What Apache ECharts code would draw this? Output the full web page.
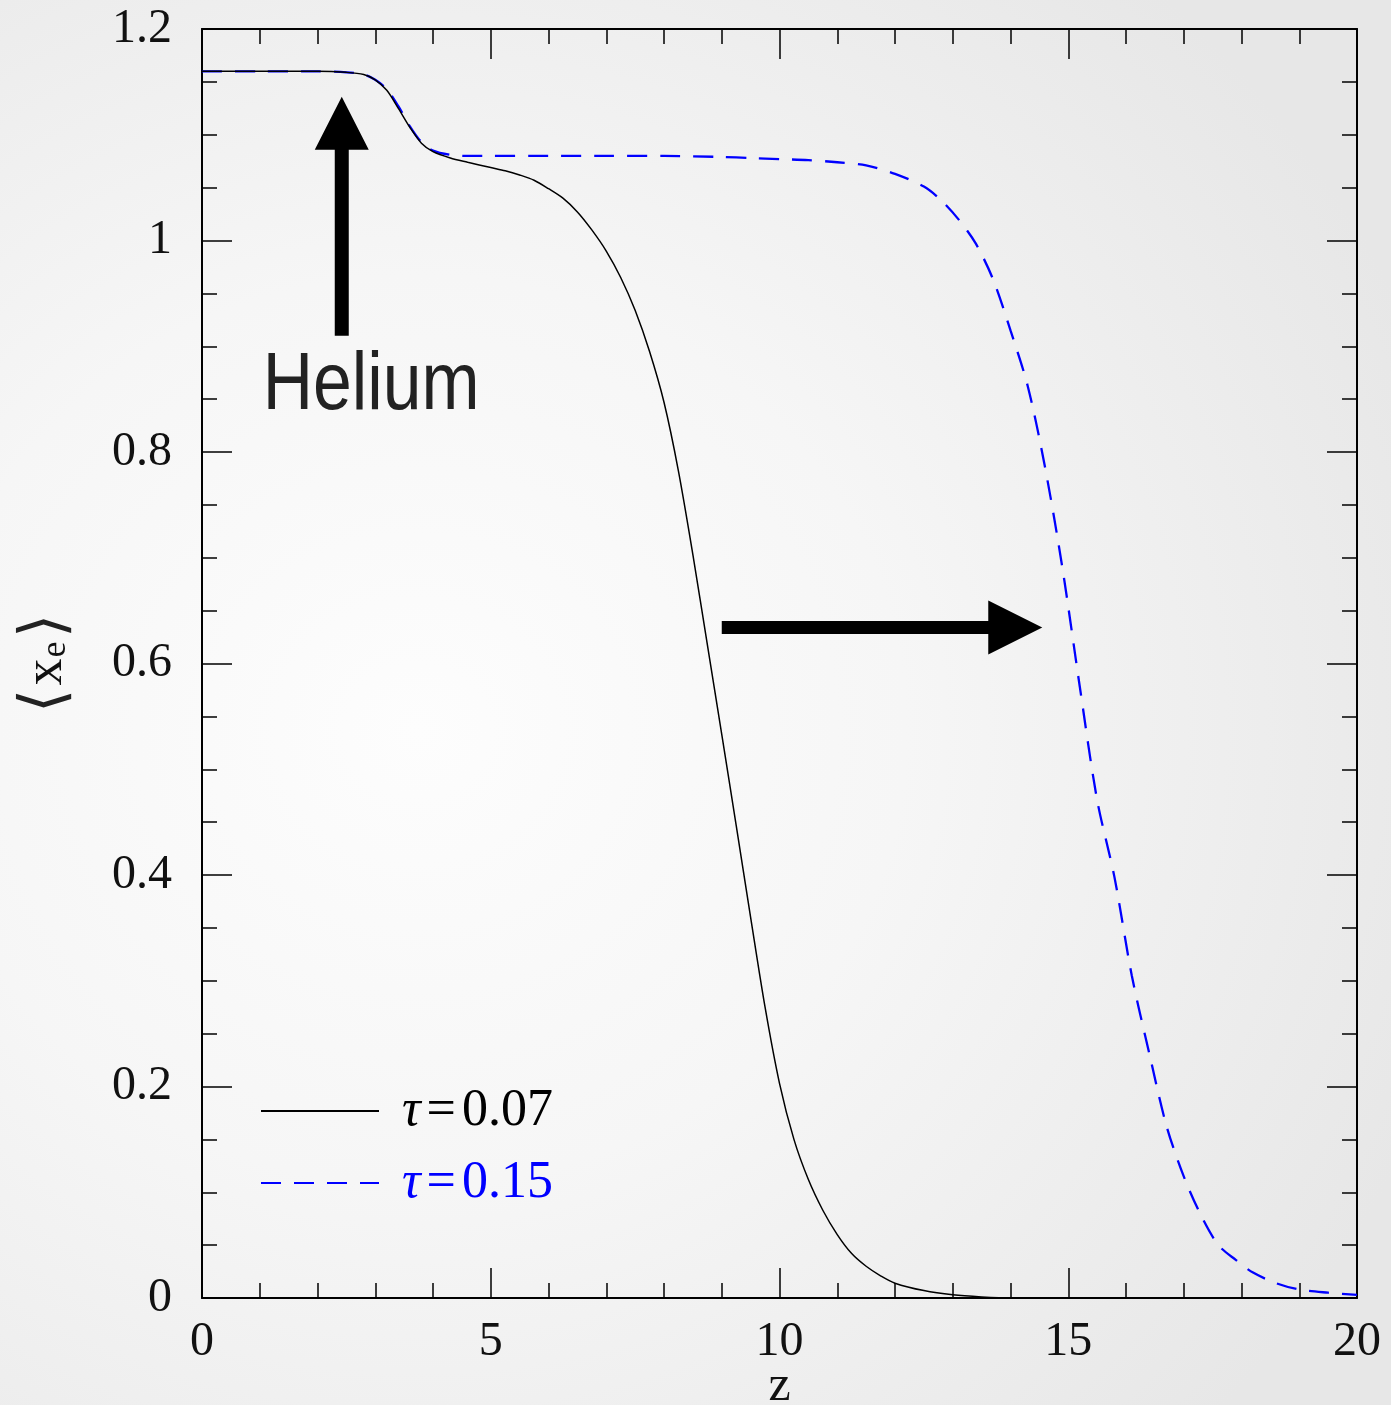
<!DOCTYPE html>
<html>
<head>
<meta charset="utf-8">
<script src="https://cdn.jsdelivr.net/npm/echarts@6/dist/echarts.min.js"></script>
<style>
  html, body { margin: 0; padding: 0; }
  body {
    background: radial-gradient(ellipse 78% 72% at 30% 52%, #fdfdfd 0%, #f6f6f6 45%, #e7e7e7 100%);
  }
  #chart { width: 1391px; height: 1405px; }
</style>
</head>
<body>
<div id="chart"></div>
<script>
// Mean ionized fraction <x_e> versus redshift z for two optical depths.
const seriesNames = ['τ=0.07', 'τ=0.15'];

// tau = 0.07 (solid black)
const zLow = [0, 1, 2, 2.5, 2.8, 3.0, 3.2, 3.4, 3.6, 3.8, 4.0, 4.3, 4.6, 5.0, 5.25, 5.5, 5.75,
  6.0, 6.25, 6.5, 6.75, 7.0, 7.25, 7.5, 7.75, 8.0, 8.25, 8.5, 8.75, 9.0, 9.25, 9.5, 9.75, 10.0,
  10.25, 10.5, 10.75, 11.0, 11.25, 11.5, 11.75, 12.0, 12.5, 13.0, 13.5, 14.0, 16, 18, 20];
const xeLow = [1.16, 1.16, 1.16, 1.159, 1.157, 1.152, 1.142, 1.125, 1.107, 1.092, 1.084, 1.078,
  1.074, 1.069, 1.066, 1.062, 1.057, 1.049, 1.04, 1.027, 1.01, 0.99, 0.965, 0.934, 0.895, 0.847,
  0.782, 0.703, 0.618, 0.533, 0.447, 0.36, 0.275, 0.203, 0.15, 0.112, 0.083, 0.06, 0.042, 0.03,
  0.021, 0.014, 0.007, 0.003, 0.001, 0, 0, 0, 0];

// tau = 0.15 (dashed blue)
const zHigh = [0, 1, 2, 2.5, 2.8, 3.0, 3.2, 3.4, 3.6, 3.8, 4.0, 4.3, 4.6, 5, 6, 7, 8, 9, 9.5, 10,
  10.5, 11, 11.5, 12, 12.5, 12.8, 13.1, 13.4, 13.7, 14.0, 14.3, 14.6, 14.9, 15.2, 15.5, 15.8,
  16.1, 16.4, 16.7, 17.0, 17.3, 17.6, 17.9, 18.2, 18.6, 19, 19.5, 20];
const xeHigh = [1.16, 1.16, 1.16, 1.159, 1.157, 1.152, 1.143, 1.127, 1.108, 1.093, 1.085, 1.081,
  1.080, 1.08, 1.08, 1.08, 1.08, 1.079, 1.078, 1.077, 1.076, 1.074, 1.071, 1.063, 1.051, 1.038,
  1.02, 0.997, 0.963, 0.915, 0.862, 0.785, 0.69, 0.578, 0.471, 0.398, 0.305, 0.232, 0.163, 0.115,
  0.078, 0.05, 0.036, 0.024, 0.014, 0.008, 0.005, 0.003];

const pairs = (xs, ys) => xs.map((x, i) => [x, ys[i]]);

const SERIF = '"Liberation Serif", "DejaVu Serif", serif';
const labelFont = { fontFamily: SERIF, fontSize: 48, color: '#111' };
const tickLine = { color: '#000', width: 1.5 };

const chart = echarts.init(document.getElementById('chart'), null, { renderer: 'canvas' });

function frameAxis(base, minorSplit) {
  return Object.assign({
    type: 'value',
    axisLine: { show: true, onZero: false, lineStyle: { color: '#000', width: 2 } },
    axisTick: { show: true, inside: true, length: 30, lineStyle: tickLine },
    minorTick: { show: true, splitNumber: minorSplit, length: 15, lineStyle: tickLine },
    splitLine: { show: false },
    minorSplitLine: { show: false }
  }, base);
}

const xBase = { min: 0, max: 20, interval: 5 };
const yBase = { min: 0, max: 1.2, interval: 0.2 };

chart.setOption({
  animation: false,
  backgroundColor: 'transparent',
  grid: { left: 202, right: 34, top: 29, bottom: 107, containLabel: false, outerBoundsMode: 'none' },
  xAxis: [
    frameAxis(Object.assign({}, xBase, {
      position: 'bottom',
      axisLabel: Object.assign({ margin: 20 }, labelFont),
      name: 'z',
      nameLocation: 'middle',
      nameGap: 64,
      nameMoveOverlap: false,
      nameTextStyle: { fontFamily: SERIF, fontSize: 50, color: '#111' }
    }), 5),
    frameAxis(Object.assign({}, xBase, {
      position: 'top',
      axisLabel: { show: false }
    }), 5)
  ],
  yAxis: [
    frameAxis(Object.assign({}, yBase, {
      position: 'left',
      axisLabel: Object.assign({ margin: 30, formatter: v => String(+v.toFixed(2)) }, labelFont),
      name: '{b|⟨}{x|x}{s|e}{b|⟩}',
      nameLocation: 'middle',
      nameRotate: 90,
      nameGap: 124,
      nameMoveOverlap: false,
      nameTextStyle: {
        rich: {
          b: { fontFamily: '"DejaVu Sans Light", "DejaVu Sans", sans-serif', fontSize: 62, color: '#222', fontWeight: 200 },
          x: { fontFamily: SERIF, fontSize: 54, color: '#111', padding: [0, 1, 0, 4] },
          s: { fontFamily: SERIF, fontSize: 36, color: '#111', padding: [18, 4, 0, 0] }
        }
      }
    }), 4),
    frameAxis(Object.assign({}, yBase, {
      position: 'right',
      axisLabel: { show: false }
    }), 4)
  ],
  legend: {
    show: true,
    selectedMode: false,
    orient: 'vertical',
    left: 255,
    top: 1080,
    itemWidth: 118,
    itemHeight: 20,
    itemGap: 20,
    itemStyle: { opacity: 0 },
    data: [
      { name: seriesNames[0], textStyle: { color: '#000' } },
      { name: seriesNames[1], textStyle: { color: '#0000ff' } }
    ],
    formatter: name => '{t|τ}{e|=}{r|' + name.slice(2) + '}',
    textStyle: {
      padding: [0, 0, 0, 18],
      rich: {
        t: { fontFamily: SERIF, fontStyle: 'italic', fontSize: 52, lineHeight: 44 },
        e: { fontFamily: SERIF, fontSize: 52, lineHeight: 44, padding: [0, 6, 0, 6] },
        r: { fontFamily: SERIF, fontSize: 52, lineHeight: 44 }
      }
    }
  },
  series: [
    {
      name: seriesNames[0],
      type: 'line',
      data: pairs(zLow, xeLow),
      symbol: 'none',
      smooth: 0.3,
      lineStyle: { color: '#000', width: 1.5 },
      itemStyle: { color: '#000' },
      z: 3
    },
    {
      name: seriesNames[1],
      type: 'line',
      data: pairs(zHigh, xeHigh),
      symbol: 'none',
      smooth: 0.3,
      lineStyle: { color: '#0000ff', width: 2.3, type: [20, 13] },
      itemStyle: { color: '#0000ff' },
      z: 2
    }
  ]
});

// Annotations: the helium arrow with its caption and the arrow between the two curves.
const px = (z, v) => chart.convertToPixel({ seriesIndex: 0 }, [z, v]);

const heBase = px(2.42, 0.91), heTip = px(2.42, 1.136);
const hx = heBase[0], hb = heBase[1], ht = heTip[1];
const upArrow = [
  [hx - 7, hb], [hx - 7, ht + 53], [hx - 27, ht + 53], [hx, ht],
  [hx + 27, ht + 53], [hx + 7, ht + 53], [hx + 7, hb]
];

const shStart = px(9.0, 0.634), shTip = px(14.55, 0.634);
const sx = shStart[0], sy = shStart[1], tx = shTip[0];
const rightArrow = [
  [sx, sy - 6.5], [tx - 54, sy - 6.5], [tx - 54, sy - 27], [tx, sy],
  [tx - 54, sy + 27], [tx - 54, sy + 6.5], [sx, sy + 6.5]
];

const heText = px(1.05, 0.862);

chart.setOption({
  graphic: [
    { type: 'polygon', shape: { points: upArrow }, style: { fill: '#000' }, z: 10 },
    { type: 'polygon', shape: { points: rightArrow }, style: { fill: '#000' }, z: 10 },
    {
      type: 'text', x: heText[0], y: heText[1], scaleX: 0.86, z: 10,
      style: {
        text: 'Helium', x: 0, y: 0, align: 'left', verticalAlign: 'middle',
        font: '81px "Liberation Sans", Arial, sans-serif', fill: '#222'
      }
    }
  ]
});
</script>
</body>
</html>
